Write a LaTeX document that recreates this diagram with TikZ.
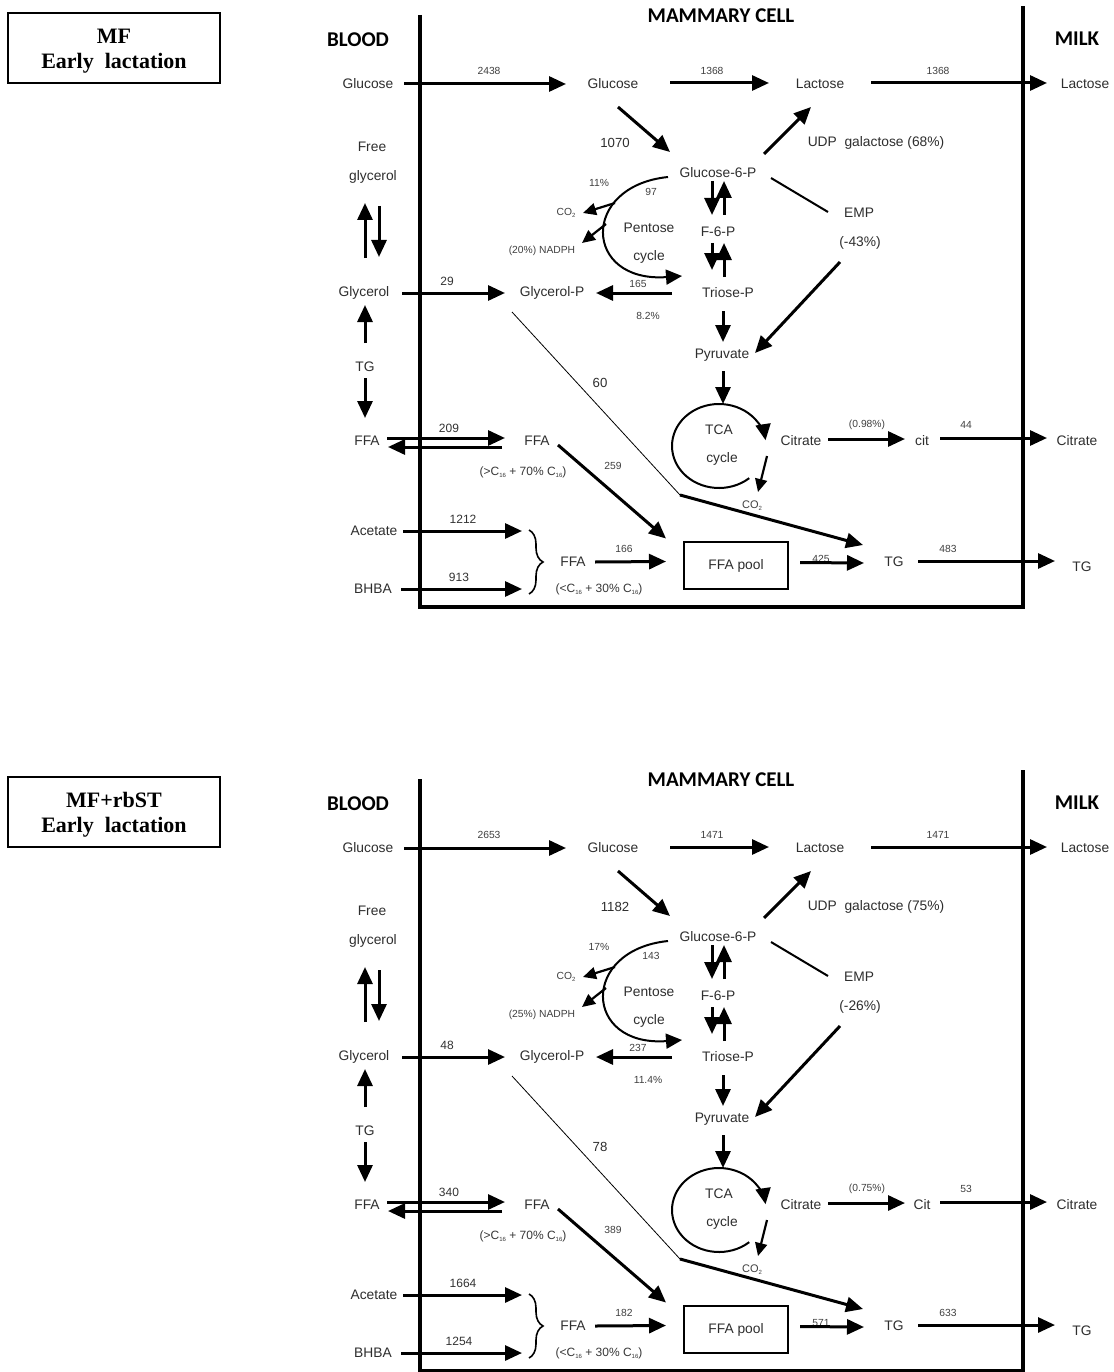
\documentclass[tikz,border=0pt]{standalone}
\usepackage{fontspec}
\setmainfont{Liberation Sans}
\newfontfamily\titlefont{Liberation Serif}
\newfontfamily\headfont{Carlito}
\usetikzlibrary{arrows.meta,decorations.pathreplacing}

\newcommand\sbs[1]{\raisebox{-2.2pt}{\fontsize{6}{6}\selectfont #1}}

\tikzset{
  lab/.style={font=\fontsize{13.8}{15}\selectfont, text=black!82, inner sep=0pt},
  sml/.style={font=\fontsize{10.3}{12}\selectfont, text=black!75, inner sep=0pt},
  med/.style={font=\fontsize{12}{14}\selectfont, text=black!80, inner sep=0pt},
  big/.style={font=\fontsize{13.2}{15}\selectfont, text=black!82, inner sep=0pt},
  sub/.style={font=\fontsize{12}{14}\selectfont, text=black!78, inner sep=0pt},
  head/.style={font=\headfont\bfseries\fontsize{21}{23}\selectfont, inner sep=0pt},
  titletext/.style={font=\titlefont\bfseries\fontsize{22}{25}\selectfont, align=center, inner sep=0pt},
  arr/.style={line width=3pt, -{Triangle[length=17pt,width=15pt]}},
  thinarr/.style={line width=2.2pt, -{Triangle[length=13pt,width=12pt]}},
  curvarr/.style={line width=2pt, -{Triangle[length=16pt,width=15pt]}},
  plainline/.style={line width=2pt},
  hairline/.style={line width=0.8pt},
  wall/.style={line width=3.2pt},
  bracestyle/.style={line width=1.6pt, decorate, decoration={brace, amplitude=14pt}},
}

\newcommand\mmdiagram{%
  % title box and headings
  \node[draw, line width=1.8pt, minimum width=212pt, minimum height=70pt] (tbox) at (114,48) {};
  \node[titletext] (title) at (114,51) {\mmTitle\\Early\ \ lactation};
  \node[head] (blood) at (358,40) {BLOOD};
  \node[head] (mcell) at (721,16) {MAMMARY CELL};
  \node[head] (milk) at (1077,39) {MILK};
  \draw[wall] (420,15) -- (420,607) -- (1023,607) -- (1023,6);
  % metabolite nodes
  \node[lab] (glcB) at (368,84) {Glucose};
  \node[lab] (glcC) at (613,84) {Glucose};
  \node[lab] (lacC) at (820,84) {Lactose};
  \node[lab] (lacM) at (1085,84) {Lactose};
  \node[lab] (g6p) at (718,173) {Glucose-6-P};
  \node[lab] (f6p) at (718,232) {F-6-P};
  \node[lab] (tri) at (728,293) {Triose-P};
  \node[lab] (pyr) at (722,355) {Pyruvate};
  \node[lab] (emp) at (859,213) {EMP};
  \node[lab] (empp) at (860,243) {\mmEMP};
  \node[lab] (udp) at (876,143) {UDP\ \ galactose \mmUDP};
  \node[lab] (free) at (372,147) {Free};
  \node[lab] (fglyc) at (373,177) {glycerol};
  \node[lab] (glyB) at (364,293) {Glycerol};
  \node[lab] (glyP) at (552,293) {Glycerol-P};
  \node[lab] (tgB) at (365,367) {TG};
  \node[lab] (ffaB) at (367,441) {FFA};
  \node[lab] (ffaC) at (537,441) {FFA};
  \node[sub] (ffaCsub) at (523,472) {(>C\sbs{16} + 70\% C\sbs{16})};
  \node[lab] (acet) at (374,531) {Acetate};
  \node[lab] (bhba) at (373,589) {BHBA};
  \node[lab] (ffa2) at (573,562) {FFA};
  \node[sub] (ffa2sub) at (599,589) {(<C\sbs{16} + 30\% C\sbs{16})};
  \node[lab, draw, text=black!82, line width=1.8pt, minimum width=104pt, minimum height=47pt] (pool) at (736,565.5) {FFA pool};
  \node[lab] (tgC) at (894,562) {TG};
  \node[lab] (tgM) at (1082,567) {TG};
  \node[lab] (cit) at (801,441) {Citrate};
  \node[lab] (cit2) at (922,441) {\mmCitName};
  \node[lab] (citM) at (1077,441) {Citrate};
  \node[lab] (tcaA) at (719,430) {TCA};
  \node[lab] (tcaB) at (722,459) {cycle};
  \node[lab] (pent) at (649,228) {Pentose};
  \node[lab] (pcyc) at (649,257) {cycle};
  \node[sml] (co2a) at (566,213) {CO\sbs{2}};
  \node[sml] (nadph) at (542,251) {\mmNADPH\ NADPH};
  \node[sml, font=\fontsize{11}{12}\selectfont] (co2b) at (752,506) {CO\sbs{2}};
  \coordinate (tcac) at (719,446);
  \coordinate (kink) at (680,495);
  \coordinate (braceT) at (529,530);
  \coordinate (braceB) at (529,594);
  % flux labels
  \node[sml] (nGlcIn) at (489,71) {\mmGlcIn};
  \node[sml] (nLac) at (712,71) {\mmLac};
  \node[sml] (nLacOut) at (938,71) {\mmLac};
  \node[big] (nG6P) at (615,143) {\mmGsix};
  \node[sml] (nPct) at (599,183) {\mmPentPct};
  \node[sml] (nPent) at (651,192) {\mmPent};
  \node[sml] (nTri) at (638,284) {\mmTri};
  \node[sml] (nTriPct) at (648,316) {\mmTriPct};
  \node[med] (nGly) at (447,281) {\mmGly};
  \node[big] (nSixty) at (600,383) {\mmSixty};
  \node[med] (nFFAin) at (449,428) {\mmFFAin};
  \node[sml] (nFFApool) at (613,466) {\mmFFApool};
  \node[med] (nAce) at (463,519) {\mmAce};
  \node[med] (nBHBA) at (459,577) {\mmBHBA};
  \node[sml] (nSyn) at (624,549) {\mmSyn};
  \node[sml] (nCitPct) at (867,425) {\mmCitPct};
  \node[sml] (nCit) at (966,425) {\mmCit};
  \node[sml] (nPoolTG) at (821,559) {\mmPoolTG};
  \node[sml] (nTGout) at (948,549) {\mmTGout};
  % connectors
  \draw[arr] ([shift={(36,0)}]glcB.center) -- ([shift={(-47,0)}]glcC.center);
  \draw[arr] ([shift={(57,-1)}]glcC.center) -- ([shift={(-51,-1)}]lacC.center);
  \draw[arr] ([shift={(51,-1)}]lacC.center) -- ([shift={(-38,-1)}]lacM.center);
  \draw[arr] ([shift={(5,23)}]glcC.center) -- ([shift={(-48,-21)}]g6p.center);
  \draw[arr] ([shift={(46,-19)}]g6p.center) -- ([shift={(-9,23)}]lacC.center);
  \draw[plainline] ([shift={(53,5)}]g6p.center) -- ([shift={(-31,-1)}]emp.center);
  \draw[arr] ([shift={(-20,19)}]empp.center) -- ([shift={(33,-2)}]pyr.center);
  \draw[arr] ([shift={(-6,8)}]g6p.center) -- ([shift={(-6,-17)}]f6p.center);
  \draw[arr] ([shift={(6,-17)}]f6p.center) -- ([shift={(6,8)}]g6p.center);
  \draw[arr] ([shift={(-6,11)}]f6p.center) -- ([shift={(-16,-23)}]tri.center);
  \draw[arr] ([shift={(-4,-16)}]tri.center) -- ([shift={(6,11)}]f6p.center);
  \draw[arr] ([shift={(-5,18)}]tri.center) -- ([shift={(1,-13)}]pyr.center);
  \draw[arr] ([shift={(1,16)}]pyr.center) -- ([shift={(4,-42)}]tcac);
  \draw[arr] ([shift={(-56,0)}]tri.center) -- ([shift={(44,0)}]glyP.center);
  \draw[arr] ([shift={(38,0)}]glyB.center) -- ([shift={(-47,0)}]glyP.center);
  \draw[arr] ([shift={(1,-35)}]glyB.center) -- ([shift={(-8,26)}]fglyc.center);
  \draw[arr] ([shift={(6,29)}]fglyc.center) -- ([shift={(15,-36)}]glyB.center);
  \draw[arr] ([shift={(0,-24)}]tgB.center) -- ([shift={(1,12)}]glyB.center);
  \draw[arr] ([shift={(0,11)}]tgB.center) -- ([shift={(-2,-23)}]ffaB.center);
  \draw[arr] ([shift={(20,-3)}]ffaB.center) -- ([shift={(-32,-3)}]ffaC.center);
  \draw[arr] ([shift={(-35,6)}]ffaC.center) -- ([shift={(21,6)}]ffaB.center);
  \draw[arr] ([shift={(21,4)}]ffaC.center) -- ([shift={(-70,-27)}]pool.center);
  \draw[arr] ([shift={(29,0)}]acet.center) -- ([shift={(-7,1)}]braceT);
  \draw[arr] ([shift={(28,0)}]bhba.center) -- ([shift={(-7,-5)}]braceB);
  \draw[bracestyle] (braceT) -- (braceB);
  \draw[arr] ([shift={(22,0)}]ffa2.center) -- ([shift={(-70,-4)}]pool.center);
  \draw[arr] ([shift={(64,-3)}]pool.center) -- ([shift={(-30,1)}]tgC.center);
  \draw[arr] ([shift={(24,-1)}]tgC.center) -- ([shift={(-27,-6)}]tgM.center);
  \draw[arr] ([shift={(27,-2)}]cit.center) -- ([shift={(-17,-2)}]cit2.center);
  \draw[arr] ([shift={(18,-3)}]cit2.center) -- ([shift={(-30,-3)}]citM.center);
  \draw[hairline] ([shift={(-40,19)}]glyP.center) -- (kink);
  \draw[arr] (kink) -- ([shift={(-31,-17)}]tgC.center);
  \draw[curvarr] ([shift={(-50,4)}]g6p.center) .. controls (580,186) and (583,283) .. ([shift={(-46,-17)}]tri.center);
  \draw[thinarr] ([shift={(49,-10)}]co2a.center) -- ([shift={(17,0)}]co2a.center);
  \draw[thinarr] ([shift={(64,-27)}]nadph.center) -- ([shift={(40,-8)}]nadph.center);
  \draw[curvarr] ([shift={(50:47 and 42)}]tcac) arc[start angle=50, end angle=352, x radius=47, y radius=42];
  \draw[thinarr] ([shift={(15,-50)}]co2b.center) -- ([shift={(6,-14)}]co2b.center);
}

\begin{document}
\begin{tikzpicture}[x=1pt,y=-1pt]
\useasboundingbox (0,0) rectangle (1113,1372);
\fill[white] (0,0) rectangle (1113,1372);
\def\mmTitle{MF}\def\mmEMP{(-43\%)}\def\mmUDP{(68\%)}\def\mmCitName{cit}
\def\mmNADPH{(20\%)}\def\mmGlcIn{2438}\def\mmLac{1368}\def\mmGsix{1070}
\def\mmPentPct{11\%}\def\mmPent{97}\def\mmTri{165}\def\mmTriPct{8.2\%}
\def\mmGly{29}\def\mmSixty{60}\def\mmFFAin{209}\def\mmFFApool{259}
\def\mmAce{1212}\def\mmBHBA{913}\def\mmSyn{166}\def\mmCitPct{(0.98\%)}
\def\mmCit{44}\def\mmPoolTG{425}\def\mmTGout{483}
\begin{scope}[name prefix=a-]
\mmdiagram
\end{scope}
\def\mmTitle{MF+rbST}\def\mmEMP{(-26\%)}\def\mmUDP{(75\%)}\def\mmCitName{Cit}
\def\mmNADPH{(25\%)}\def\mmGlcIn{2653}\def\mmLac{1471}\def\mmGsix{1182}
\def\mmPentPct{17\%}\def\mmPent{143}\def\mmTri{237}\def\mmTriPct{11.4\%}
\def\mmGly{48}\def\mmSixty{78}\def\mmFFAin{340}\def\mmFFApool{389}
\def\mmAce{1664}\def\mmBHBA{1254}\def\mmSyn{182}\def\mmCitPct{(0.75\%)}
\def\mmCit{53}\def\mmPoolTG{571}\def\mmTGout{633}
\begin{scope}[name prefix=b-, yshift=-764pt]
\mmdiagram
\end{scope}
\end{tikzpicture}
\end{document}
